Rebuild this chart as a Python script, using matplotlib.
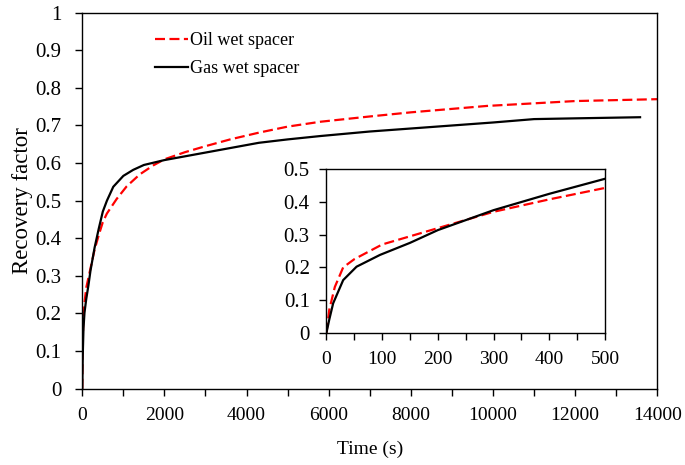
import matplotlib
matplotlib.use("Agg")
import matplotlib.pyplot as plt
from matplotlib.ticker import MultipleLocator

plt.rcParams["font.family"] = ["Liberation Serif", "DejaVu Serif"]

# Recovery factor vs time
t_oil = [0, 5, 15, 30, 50, 100, 200, 300, 400, 500, 600, 840, 1080, 1400, 1730,
         2000, 2500, 3000, 3600, 4300, 5000, 5800, 7000, 8000, 9850, 12000, 14000]
rf_oil = [0, 0.07, 0.14, 0.20, 0.225, 0.27, 0.32, 0.37, 0.408, 0.443, 0.466, 0.505,
          0.538, 0.570, 0.594, 0.610, 0.629, 0.645, 0.663, 0.681, 0.697, 0.710,
          0.724, 0.735, 0.752, 0.765, 0.770]

t_gas = [0, 5, 12, 30, 54, 96, 150, 200, 300, 350, 400, 500, 600, 755, 1000, 1240,
         1500, 2000, 2500, 3000, 3600, 4300, 5000, 5800, 7000, 8000, 10000, 11000,
         12000, 13580]
rf_gas = [0, 0.04, 0.09, 0.161, 0.202, 0.238, 0.275, 0.314, 0.375, 0.40, 0.425, 0.471,
          0.50, 0.537, 0.566, 0.582, 0.595, 0.608, 0.618, 0.628, 0.640, 0.654, 0.663,
          0.672, 0.684, 0.692, 0.708, 0.717, 0.719, 0.722]

labels = ["Oil wet spacer", "Gas wet spacer"]

fig = plt.figure(figsize=(6.85, 4.65), dpi=100)
ax = fig.add_axes([0.1201, 0.1641, 0.8395, 0.8086])

ax.plot(t_oil, rf_oil, color="red", lw=1.6, dashes=(4.5, 2), label=labels[0])
ax.plot(t_gas, rf_gas, color="black", lw=1.6, label=labels[1])

ax.set_xlim(0, 14000)
ax.set_ylim(0, 1)
ax.xaxis.set_major_locator(MultipleLocator(2000))
ax.xaxis.set_minor_locator(MultipleLocator(1000))
ax.yaxis.set_major_locator(MultipleLocator(0.1))
ax.set_yticklabels([f"{v:g}" for v in ax.get_yticks()])
ax.tick_params(which="both", direction="out", length=5, width=1, labelsize=14,
               top=False, right=False)
ax.tick_params(axis="y", pad=10, labelsize=15)
ax.tick_params(axis="x", pad=8)
for s in ax.spines.values():
    s.set_linewidth(1.0)
ax.set_xlabel("Time (s)", fontsize=14, labelpad=12)
ax.set_ylabel("Recovery factor", fontsize=16.5, labelpad=2)

ax.legend(loc="upper left", bbox_to_anchor=(155 / 685, 1 - 32 / 465),
          bbox_transform=fig.transFigure, frameon=False, fontsize=13,
          handlelength=1.85, handletextpad=0.1, labelspacing=0.6,
          borderpad=0, borderaxespad=0)

# inset: first 500 s
axi = fig.add_axes([0.4766, 0.2845, 0.4066, 0.3514])
axi.plot(t_oil, rf_oil, color="red", lw=1.6, dashes=(4.5, 2))
axi.plot(t_gas, rf_gas, color="black", lw=1.6)
axi.set_xlim(0, 500)
axi.set_ylim(0, 0.5)
axi.xaxis.set_major_locator(MultipleLocator(100))
axi.xaxis.set_minor_locator(MultipleLocator(50))
axi.yaxis.set_major_locator(MultipleLocator(0.1))
axi.set_yticklabels([f"{v:g}" for v in axi.get_yticks()])
axi.tick_params(which="both", direction="out", length=5, width=1, labelsize=14,
                top=False, right=False)
axi.tick_params(axis="y", pad=7, labelsize=15)
axi.tick_params(axis="x", pad=8)
for s in axi.spines.values():
    s.set_linewidth(1.0)

fig.savefig("out.png", dpi=100)
